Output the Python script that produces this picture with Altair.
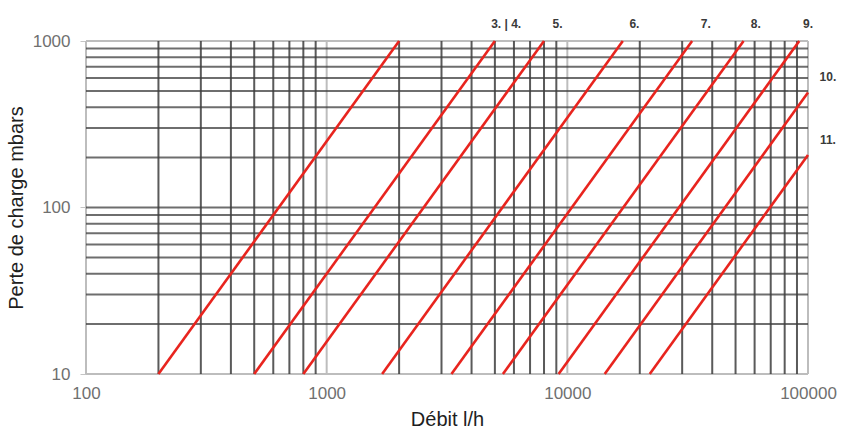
import altair as alt
import pandas as pd

# Grid values (flow in l/h, pressure drop in mbar)
x_decades = [100, 1000, 10000, 100000]
x_minor = [200, 300, 400, 500, 600, 700, 800, 900,
           2000, 3000, 4000, 5000, 6000, 7000, 8000, 9000,
           20000, 30000, 40000, 50000, 60000, 70000, 80000, 90000]
y_edges = [10, 1000]
y_minor = [20, 30, 40, 50, 60, 70, 80, 90, 100,
           200, 300, 400, 500, 600, 700, 800, 900]

# Each curve is straight on log-log axes: start and end points
curve_id = [1, 2, 3, 4, 5, 6, 7, 8, 9]
flow_start = [200, 500, 800, 1700, 3300, 5400, 9200, 14300, 22000]
dp_start = [10, 10, 10, 10, 10, 10, 10, 10, 10]
flow_end = [2000, 5000, 8000, 17000, 33000, 54000, 92000, 100000, 100000]
dp_end = [1000, 1000, 1000, 1000, 1000, 1000, 1000, 490, 207]

# Size labels
top_labels = ["3. | 4.", "5.", "6.", "7.", "8.", "9."]
top_label_flow = [5570, 9100, 19000, 37600, 60700, 100000]
side_labels = ["10.", "11."]
side_label_dp = [608, 254]
side_label_flow = [121000, 121000]

curves = pd.DataFrame(
    [{"id": c, "flow": f, "dp": d} for c, f, d in zip(curve_id, flow_start, dp_start)]
    + [{"id": c, "flow": f, "dp": d} for c, f, d in zip(curve_id, flow_end, dp_end)]
)

xs = alt.Scale(type="log", domain=[100, 100000], nice=False)
ys = alt.Scale(type="log", domain=[10, 1000], nice=False)

font = "Liberation Sans"

x_axis = alt.Axis(values=x_decades, format="d", grid=False, domain=False,
                  ticks=False, labelFontSize=17, labelColor="#707070",
                  labelPadding=11, labelFlush=False, labelFont=font,
                  title="Débit l/h", titleFontSize=20, titleFontWeight="normal",
                  titleColor="#1e1e1e", titleFont=font, titlePadding=8)
y_axis = alt.Axis(values=[10, 100, 1000], format="d", grid=False, domain=False,
                  ticks=True, tickSize=6, tickColor="#c4c4c4", labelFontSize=17,
                  labelColor="#707070", labelPadding=10, labelFlush=False,
                  labelFont=font, title="Perte de charge mbars", titleFontSize=20,
                  titleFontWeight="normal", titleColor="#1e1e1e", titleFont=font,
                  titlePadding=6)

light_v = alt.Chart(pd.DataFrame({"flow": x_decades})).mark_rule(
    color="#bdbdbd", strokeWidth=2).encode(x=alt.X("flow:Q", scale=xs, axis=x_axis))
light_h = alt.Chart(pd.DataFrame({"dp": y_edges})).mark_rule(
    color="#bdbdbd", strokeWidth=2).encode(y=alt.Y("dp:Q", scale=ys, axis=y_axis))
dark_v = alt.Chart(pd.DataFrame({"flow": x_minor})).mark_rule(
    color="#3d3d3d", strokeWidth=2, opacity=0.85).encode(x=alt.X("flow:Q", scale=xs))
dark_h = alt.Chart(pd.DataFrame({"dp": y_minor})).mark_rule(
    color="#3d3d3d", strokeWidth=2, opacity=0.75).encode(y=alt.Y("dp:Q", scale=ys))

lines = alt.Chart(curves).mark_line(color="#e8241e", strokeWidth=2.6).encode(
    x=alt.X("flow:Q", scale=xs),
    y=alt.Y("dp:Q", scale=ys),
    detail="id:N",
)

top_text = alt.Chart(pd.DataFrame({"t": top_labels, "flow": top_label_flow})).mark_text(
    font=font, fontSize=12, fontWeight="bold", color="#3a3a3a", baseline="middle"
).encode(x=alt.X("flow:Q", scale=xs), y=alt.value(-17), text="t:N")

side_text = alt.Chart(pd.DataFrame({"t": side_labels, "flow": side_label_flow,
                                    "dp": side_label_dp})).mark_text(
    font=font, fontSize=12, fontWeight="bold", color="#3a3a3a", baseline="middle"
).encode(x=alt.X("flow:Q", scale=xs), y=alt.Y("dp:Q", scale=ys), text="t:N")

chart = alt.layer(light_v, light_h, dark_v, dark_h, lines, top_text, side_text).properties(
    width=722, height=333,
    autosize=alt.AutoSizeParams(type="none"),
    padding={"left": 86, "top": 41, "right": 35, "bottom": 58},
).configure_view(stroke=None)

chart.save("out.html", embed_options={"renderer": "svg", "actions": False})
